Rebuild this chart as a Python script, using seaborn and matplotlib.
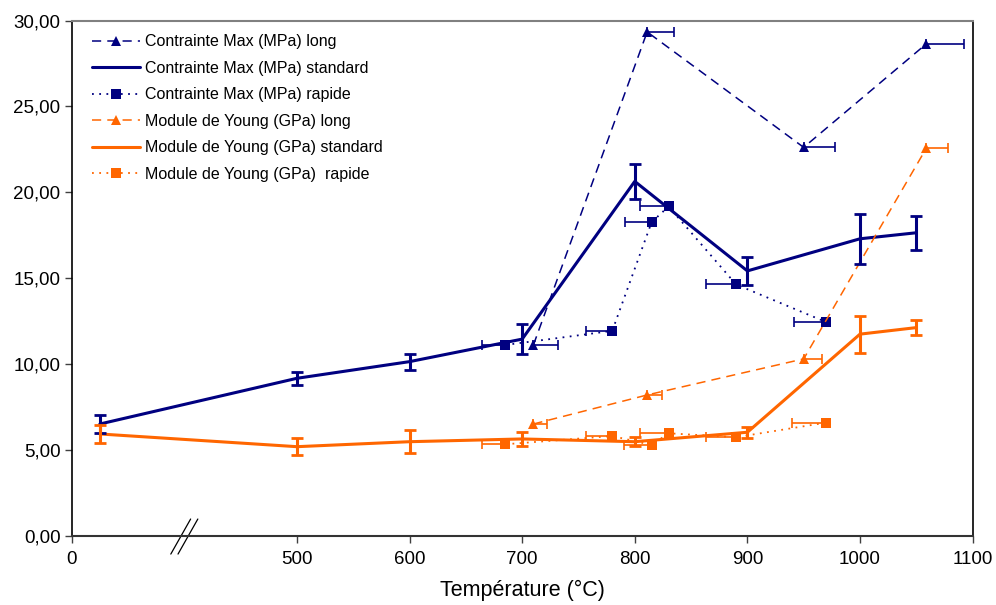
import numpy as np
import pandas as pd
import matplotlib
matplotlib.use('Agg')
import matplotlib.pyplot as plt
import seaborn as sns

# --- data ---
# ambient temperature sits left of the axis break; it is drawn shifted by BREAK_SHIFT
BREAK_SHIFT = 300

t_standard = [25, 500, 600, 700, 800, 900, 1000, 1050]
cm_standard = [6.52, 9.18, 10.15, 11.46, 20.64, 15.43, 17.30, 17.65]
cm_standard_err = [0.50, 0.37, 0.47, 0.86, 1.00, 0.80, 1.45, 1.00]
my_standard = [5.94, 5.20, 5.49, 5.65, 5.49, 6.04, 11.75, 12.13]
my_standard_err = [0.50, 0.50, 0.68, 0.43, 0.27, 0.32, 1.07, 0.44]

t_long = [710, 811, 950, 1059]
cm_long = [11.12, 29.34, 22.62, 28.65]
cm_long_xerr = [22, 24, 28, 33]
my_long = [6.52, 8.21, 10.31, 22.58]
my_long_xerr = [12, 13, 16, 19]

t_rapide = [685, 780, 815, 830, 890, 970]
cm_rapide = [11.12, 11.94, 18.27, 19.18, 14.64, 12.45]
cm_rapide_xerr = [21, 23, 24, 25, 27, 29]
my_rapide = [5.34, 5.82, 5.30, 5.98, 5.75, 6.60]
my_rapide_xerr = [21, 23, 25, 25, 27, 30]

x_ticks = [0, 500, 600, 700, 800, 900, 1000, 1100]
y_ticks = [0, 5, 10, 15, 20, 25, 30]

NAVY = '#000080'
ORANGE = '#FF6600'


def xpos(temps):
    return [t + BREAK_SHIFT if t < BREAK_SHIFT else t for t in temps]


sns.set_style('white')
plt.rcParams['font.family'] = ['Liberation Sans', 'DejaVu Sans']
plt.rcParams['text.color'] = 'black'
plt.rcParams['axes.labelcolor'] = 'black'
plt.rcParams['xtick.color'] = 'black'
plt.rcParams['ytick.color'] = 'black'

fig = plt.figure(figsize=(9.96, 6.05), dpi=100)
ax = fig.add_axes([0.072, 0.114, 0.9045, 0.852])

series = [
    ('Contrainte Max (MPa) long', t_long, cm_long, NAVY, (0, (6, 4)), '^', 1.1),
    ('Contrainte Max (MPa) standard', t_standard, cm_standard, NAVY, '-', None, 2.2),
    ('Contrainte Max (MPa) rapide', t_rapide, cm_rapide, NAVY, (0, (1, 3)), 's', 1.3),
    ('Module de Young (GPa) long', t_long, my_long, ORANGE, (0, (6, 4)), '^', 1.1),
    ('Module de Young (GPa) standard', t_standard, my_standard, ORANGE, '-', None, 2.2),
    ('Module de Young (GPa)  rapide', t_rapide, my_rapide, ORANGE, (0, (1, 3)), 's', 1.3),
]

for label, t, v, color, ls, marker, lw in series:
    df = pd.DataFrame({'x': xpos(t), 'y': v})
    sns.lineplot(data=df, x='x', y='y', ax=ax, sort=False, errorbar=None,
                 color=color, linestyle=ls, linewidth=lw, marker=marker,
                 markersize=7.5 if marker == '^' else 6.5, markeredgewidth=0,
                 label=label, zorder=3)

# vertical error bars on the standard series
ax.errorbar(xpos(t_standard), cm_standard, yerr=cm_standard_err, fmt='none',
            ecolor=NAVY, elinewidth=2.2, capsize=4, capthick=2, zorder=4)
ax.errorbar(xpos(t_standard), my_standard, yerr=my_standard_err, fmt='none',
            ecolor=ORANGE, elinewidth=2.2, capsize=4, capthick=2, zorder=4)

# one-sided horizontal error bars: long to the right, rapide to the left
ax.errorbar(t_long, cm_long, xerr=[[0] * len(t_long), cm_long_xerr], fmt='none',
            ecolor=NAVY, elinewidth=1.2, capsize=3.5, capthick=1.2, zorder=2)
ax.errorbar(t_long, my_long, xerr=[[0] * len(t_long), my_long_xerr], fmt='none',
            ecolor=ORANGE, elinewidth=1.2, capsize=3.5, capthick=1.2, zorder=2)
ax.errorbar(t_rapide, cm_rapide, xerr=[cm_rapide_xerr, [0] * len(t_rapide)], fmt='none',
            ecolor=NAVY, elinewidth=1.2, capsize=3.5, capthick=1.2, zorder=2)
ax.errorbar(t_rapide, my_rapide, xerr=[my_rapide_xerr, [0] * len(t_rapide)], fmt='none',
            ecolor=ORANGE, elinewidth=1.2, capsize=3.5, capthick=1.2, zorder=2)

ax.set_xlim(BREAK_SHIFT, 1100)
ax.set_ylim(0, 30)
ax.set_xticks(xpos(x_ticks))
ax.set_xticklabels([str(t) for t in x_ticks])
ax.set_yticks(y_ticks)
ax.set_yticklabels([f'{v:.2f}'.replace('.', ',') for v in y_ticks])
ax.tick_params(axis='both', direction='out', length=5, width=1, color='#404040',
               labelsize=13.5, bottom=True, left=True)
ax.tick_params(axis='x', pad=6)
ax.tick_params(axis='y', pad=3)

ax.set_xlabel('Température (°C)', fontsize=15.5, labelpad=8)
ax.set_ylabel('')

for side in ['left', 'right']:
    ax.spines[side].set_color('black')
    ax.spines[side].set_linewidth(1.2)
ax.spines['bottom'].set_color('#333333')
ax.spines['bottom'].set_linewidth(1.5)
ax.spines['top'].set_color('#808080')
ax.spines['top'].set_linewidth(1.5)

# axis break mark
brk_x = (400 - BREAK_SHIFT) / (1100 - BREAK_SHIFT)
for dx in (-0.004, 0.004):
    ax.plot([brk_x + dx - 0.011, brk_x + dx + 0.011], [-0.035, 0.033],
            transform=ax.transAxes, color='black', lw=0.9, clip_on=False)

leg = ax.legend(loc='upper left', bbox_to_anchor=(0.008, 1.0), frameon=False,
                fontsize=11.5, handlelength=3.0, handletextpad=0.3,
                labelspacing=0.72, borderaxespad=0.45)

fig.savefig('out.png', dpi=100)
